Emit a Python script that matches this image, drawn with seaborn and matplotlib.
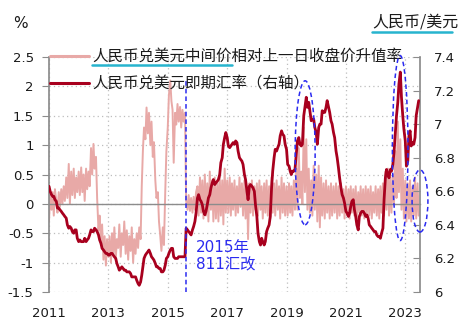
import pandas as pd
import matplotlib
matplotlib.use("Agg")
import matplotlib.pyplot as plt
import matplotlib.dates as mdates
from matplotlib.patches import Ellipse
from matplotlib.lines import Line2D
from matplotlib.font_manager import FontProperties
import seaborn as sns

# Semi-monthly observations, 2011-01 .. 2023-06
first_obs = "2011-01-01"

# 中间价相对上一日收盘价升值率 (%)
parity_gap = [
    # 2011
    -0.30, 0.15, -0.10, 0.20, -0.20, 0.25, 0.05, -0.15, 0.20, -0.05, 0.25, 0.00,
    0.30, 0.05, 0.45, 0.10, 0.68, 0.00, 0.55, 0.15, 0.60, 0.10, 0.45, 0.20,
    # 2012
    0.55, 0.15, 0.62, 0.20, 0.50, 0.05, 0.60, 0.25, 0.55, 0.30, 0.95, 0.50,
    1.02, 0.60, 0.80, 0.10, -0.45, -0.20, -0.70, -0.35, -0.95, -0.55, -1.05, -0.60,
    # 2013
    -0.90, -0.55, -1.00, -0.50, -0.85, -0.40, -0.95, -0.60, -0.75, -0.35, -0.90, -0.50,
    -0.70, -0.30, -0.85, -0.45, -0.95, -0.55, -0.80, -0.40, -1.00, -0.60, -0.85, -0.50,
    # 2014
    -0.75, -0.40, -0.60, 0.30, 0.90, 1.30, 1.10, 1.64, 1.20, 1.55, 1.00, 1.40,
    0.80, 1.05, 0.40, 0.10, 0.20, -0.30, -0.55, -0.80, -0.40, -0.70, 0.20, 0.90,
    # 2015
    1.30, 1.85, 2.10, 1.75, 1.60, 0.70, 1.55, 1.35, 1.70, 1.40, 1.65, 1.30,
    1.60, 1.40, 1.55, 0.05, -0.10, 0.15, -0.12, 0.10, -0.15, 0.12, -0.10, 0.20,
    # 2016
    0.30, -0.20, 0.45, -0.15, 0.40, -0.25, 0.50, -0.20, 0.35, -0.30, 0.55, -0.10,
    0.40, -0.30, 0.45, -0.25, 0.35, -0.30, 0.50, -0.20, 0.40, -0.35, 0.60, -0.15,
    # 2017
    0.40, -0.15, 0.45, -0.20, 0.35, -0.10, 0.40, -0.20, 0.30, -0.15, 0.45, -0.05,
    0.35, -0.20, 0.40, -0.25, 0.30, -0.60, 0.35, -0.15, 0.40, -0.20, 0.30, -0.10,
    # 2018
    0.35, -0.20, 0.40, -0.10, 0.30, -0.25, 0.35, -0.15, 0.40, -0.20, 0.30, -0.25,
    0.45, -0.15, 0.35, -0.20, 0.40, -0.10, 0.30, -0.25, 0.45, -0.15, 0.35, -0.20,
    # 2019
    0.30, -0.20, 0.35, -0.15, 0.30, -0.20, 0.40, -0.10, 0.60, -0.10, 0.95, 0.10,
    0.55, 0.00, 1.30, 0.20, 1.10, -0.10, 0.60, -0.15, 0.40, -0.20, 0.65, -0.10,
    # 2020
    0.50, -0.30, 0.65, -0.40, 0.45, -0.20, 0.35, -0.25, 0.40, -0.15, 0.30, -0.25,
    0.35, -0.20, 0.30, -0.15, 0.35, -0.25, 0.30, -0.20, 0.35, -0.15, 0.25, -0.25,
    # 2021
    0.30, -0.20, 0.25, -0.25, 0.30, -0.15, 0.25, -0.20, 0.30, -0.25, 0.20, -0.15,
    0.30, -0.20, 0.25, -0.25, 0.30, -0.15, 0.25, -0.20, 0.30, -0.25, 0.20, -0.15,
    # 2022
    0.30, -0.20, 0.25, -0.25, 0.30, -0.15, 0.35, -0.20, 0.55, -0.10, 0.60, -0.20,
    0.45, -0.15, 0.50, 0.00, 0.90, 0.10, 1.40, 0.20, 1.10, -0.10, 0.60, -0.25,
    # 2023
    0.40, -0.30, 0.35, -0.25, 0.40, -0.30, 0.30, -0.20, 0.45, -0.25, 0.35, -0.20,
]

# 人民币兑美元即期汇率
spot_rate = [
    # 2011
    6.63, 6.60, 6.58, 6.57, 6.57, 6.55, 6.54, 6.50, 6.50, 6.49, 6.48, 6.47,
    6.46, 6.45, 6.44, 6.40, 6.38, 6.39, 6.38, 6.36, 6.35, 6.37, 6.37, 6.32,
    # 2012
    6.30, 6.31, 6.30, 6.30, 6.30, 6.32, 6.30, 6.31, 6.32, 6.34, 6.37, 6.36,
    6.36, 6.38, 6.37, 6.36, 6.34, 6.31, 6.29, 6.26, 6.25, 6.24, 6.23, 6.23,
    # 2013
    6.22, 6.22, 6.23, 6.23, 6.22, 6.21, 6.20, 6.17, 6.15, 6.13, 6.14, 6.15,
    6.14, 6.13, 6.13, 6.12, 6.12, 6.12, 6.11, 6.09, 6.09, 6.09, 6.09, 6.07,
    # 2014
    6.05, 6.04, 6.06, 6.10, 6.15, 6.20, 6.22, 6.23, 6.24, 6.25, 6.23, 6.21,
    6.20, 6.19, 6.17, 6.15, 6.15, 6.14, 6.14, 6.12, 6.12, 6.13, 6.16, 6.20,
    # 2015
    6.21, 6.23, 6.25, 6.26, 6.26, 6.21, 6.20, 6.20, 6.20, 6.21, 6.21, 6.21,
    6.21, 6.21, 6.21, 6.38, 6.37, 6.36, 6.35, 6.34, 6.37, 6.39, 6.42, 6.47,
    # 2016
    6.56, 6.58, 6.55, 6.54, 6.52, 6.48, 6.46, 6.48, 6.52, 6.56, 6.58, 6.62,
    6.65, 6.67, 6.64, 6.65, 6.66, 6.67, 6.70, 6.77, 6.80, 6.88, 6.92, 6.95,
    # 2017
    6.92, 6.87, 6.86, 6.87, 6.88, 6.89, 6.88, 6.90, 6.89, 6.84, 6.80, 6.79,
    6.78, 6.76, 6.70, 6.67, 6.60, 6.55, 6.63, 6.64, 6.63, 6.62, 6.60, 6.52,
    # 2018
    6.45, 6.35, 6.30, 6.28, 6.32, 6.30, 6.28, 6.30, 6.36, 6.38, 6.40, 6.45,
    6.62, 6.72, 6.80, 6.85, 6.84, 6.86, 6.88, 6.93, 6.96, 6.94, 6.93, 6.88,
    # 2019
    6.85, 6.76, 6.75, 6.72, 6.70, 6.72, 6.72, 6.73, 6.82, 6.90, 6.92, 6.88,
    6.87, 6.88, 7.05, 7.10, 7.16, 7.10, 7.13, 7.08, 7.02, 7.03, 7.03, 6.98,
    # 2020
    6.95, 6.88, 6.98, 7.00, 7.00, 7.08, 7.07, 7.07, 7.10, 7.14, 7.10, 7.07,
    7.02, 7.00, 6.95, 6.92, 6.84, 6.80, 6.74, 6.68, 6.62, 6.58, 6.56, 6.53,
    # 2021
    6.48, 6.47, 6.45, 6.47, 6.51, 6.54, 6.55, 6.49, 6.45, 6.40, 6.37, 6.45,
    6.47, 6.48, 6.48, 6.47, 6.45, 6.46, 6.44, 6.40, 6.39, 6.38, 6.37, 6.36,
    # 2022
    6.36, 6.34, 6.33, 6.33, 6.32, 6.35, 6.38, 6.55, 6.68, 6.73, 6.70, 6.68,
    6.73, 6.72, 6.76, 6.83, 6.95, 7.05, 7.13, 7.24, 7.31, 7.16, 7.05, 6.97,
    # 2023
    6.90, 6.75, 6.78, 6.93, 6.96, 6.87, 6.89, 6.88, 6.92, 7.05, 7.10, 7.14,
]

year_ticks = [2011, 2013, 2015, 2017, 2019, 2021, 2023]
left_ticks = [-1.5, -1.0, -0.5, 0.0, 0.5, 1.0, 1.5, 2.0, 2.5]
left_tick_labels = ["-1.5", "-1", "-0.5", "0", "0.5", "1", "1.5", "2", "2.5"]
right_ticks = [6.0, 6.2, 6.4, 6.6, 6.8, 7.0, 7.2, 7.4]
right_tick_labels = ["6", "6.2", "6.4", "6.6", "6.8", "7", "7.2", "7.4"]

gap_label = "人民币兑美元中间价相对上一日收盘价升值率"
spot_label = "人民币兑美元即期汇率（右轴）"
reform_date = "2015-08-11"
reform_text = "2015年\n811汇改"

df = pd.DataFrame({
    "date": pd.date_range(first_obs, periods=len(spot_rate), freq="SMS"),
    "gap": parity_gap,
    "spot": spot_rate,
})

sns.set_theme(style="white")
plt.rcParams["font.family"] = ["DejaVu Sans", "Noto Sans CJK SC"]
cjk = ["Noto Sans CJK SC", "DejaVu Sans"]

PINK = "#E8A9A7"
DARK_RED = "#A8001E"
BLUE = "#2B2BF0"
AXIS_GREY = "#8C8C8C"
TXT = "#1A1A1A"

fig = plt.figure(figsize=(4.64, 3.29), dpi=100)
fig.patch.set_facecolor("white")
ax = fig.add_axes([49 / 464, 1 - 292 / 329, (420 - 49) / 464, (292 - 57) / 329])

sns.lineplot(data=df, x="date", y="gap", ax=ax, color=PINK, lw=1.4, zorder=2)

ax.set_ylim(-1.5, 2.5)
ax.set_xlim(pd.Timestamp("2011-01-01"), pd.Timestamp("2023-07-01"))
ax.set_yticks(left_ticks)
ax.set_yticklabels(left_tick_labels)
xt = [pd.Timestamp(f"{y}-01-01") for y in year_ticks]
ax.set_xticks(xt)
ax.set_xticklabels([])
ax.set_xlabel("")
ax.set_ylabel("")

ax.grid(True, axis="both", color="#BDBDBD", linestyle=(0, (1, 2.5)), lw=0.9)
ax.set_axisbelow(True)

for side in ("top", "right"):
    ax.spines[side].set_visible(False)
ax.spines["left"].set_color(AXIS_GREY)
ax.spines["bottom"].set_position(("data", 0))
ax.spines["bottom"].set_color(AXIS_GREY)
ax.spines["bottom"].set_linewidth(1.0)
ax.tick_params(axis="y", direction="out", length=5, width=0.8, color=AXIS_GREY,
               labelsize=9.5, labelcolor=TXT, pad=6)
ax.tick_params(axis="x", direction="out", length=4, width=0.8, color=AXIS_GREY,
               labelbottom=False)

# year labels along the bottom edge
sec = ax.secondary_xaxis("bottom")
sec.set_xticks([mdates.date2num(t) for t in xt])
sec.set_xticklabels([str(y) for y in year_ticks])
sec.tick_params(length=0, labelsize=9.5, labelcolor=TXT, pad=11)
sec.spines["bottom"].set_visible(False)

# spot rate on the right-hand scale
ax2 = ax.twinx()
sns.lineplot(data=df, x="date", y="spot", ax=ax2, color=DARK_RED, lw=2.0, zorder=3)
ax2.set_ylim(6.0, 7.4)
ax2.set_yticks(right_ticks)
ax2.set_yticklabels(right_tick_labels)
ax2.set_ylabel("")
ax2.set_xlabel("")
for side in ("top", "left", "bottom"):
    ax2.spines[side].set_visible(False)
ax2.spines["right"].set_color(AXIS_GREY)
ax2.tick_params(axis="y", direction="in", length=5, width=0.8, color=AXIS_GREY,
                labelsize=9.5, labelcolor=TXT, pad=10)

# 811 reform marker
ax2.axvline(pd.Timestamp(reform_date), ymin=0, ymax=0.9, color=BLUE,
            lw=1.1, linestyle=(0, (3, 2)), zorder=5)
ax.text(pd.Timestamp("2015-12-10"), -0.62, reform_text, color=BLUE,
        fontsize=11, va="top", ha="left", linespacing=1.15,
        family=["DejaVu Sans", "Noto Sans CJK SC"], zorder=6)

# highlighted episodes
highlights = [
    ("2019-08-18", 0.87, 246, 2.45),
    ("2022-10-30", 0.95, 192, 3.15),
    ("2023-07-01", 0.05, 195, 1.06),
]
for center, cy, w_days, h in highlights:
    e = Ellipse((mdates.date2num(pd.Timestamp(center)), cy), w_days, h,
                transform=ax.transData, fill=False, edgecolor=BLUE,
                lw=1.1, linestyle=(0, (3, 2)), clip_on=False, zorder=6)
    ax2.add_artist(e)

# legend
handles = [Line2D([], [], color=PINK, lw=2.2), Line2D([], [], color=DARK_RED, lw=2.2)]
ax2.legend(handles, [gap_label, spot_label], loc="upper left",
           bbox_to_anchor=(50 / 464, 1 - 48 / 329), bbox_transform=fig.transFigure,
           frameon=False, prop=FontProperties(family=cjk, size=11.2),
           handlelength=2.5, handletextpad=0.25, labelspacing=0.68,
           borderpad=0, borderaxespad=0, labelcolor=TXT)

# axis captions
fig.text(13 / 464, 1 - 23 / 329, "%", fontsize=11, va="center", ha="left", color=TXT)
fig.text(372 / 464, 1 - 22 / 329, "人民币/美元", fontsize=11.5, va="center", ha="left",
         color=TXT, family=cjk)
fig.add_artist(Line2D([372 / 464, 452 / 464], [1 - 32 / 329] * 2, color="#27B4CE", lw=1.8))
fig.add_artist(Line2D([92 / 464, 232 / 464], [1 - 65 / 329] * 2, color="#27B4CE", lw=1.8))

fig.savefig("out.png", dpi=100, facecolor="white")
